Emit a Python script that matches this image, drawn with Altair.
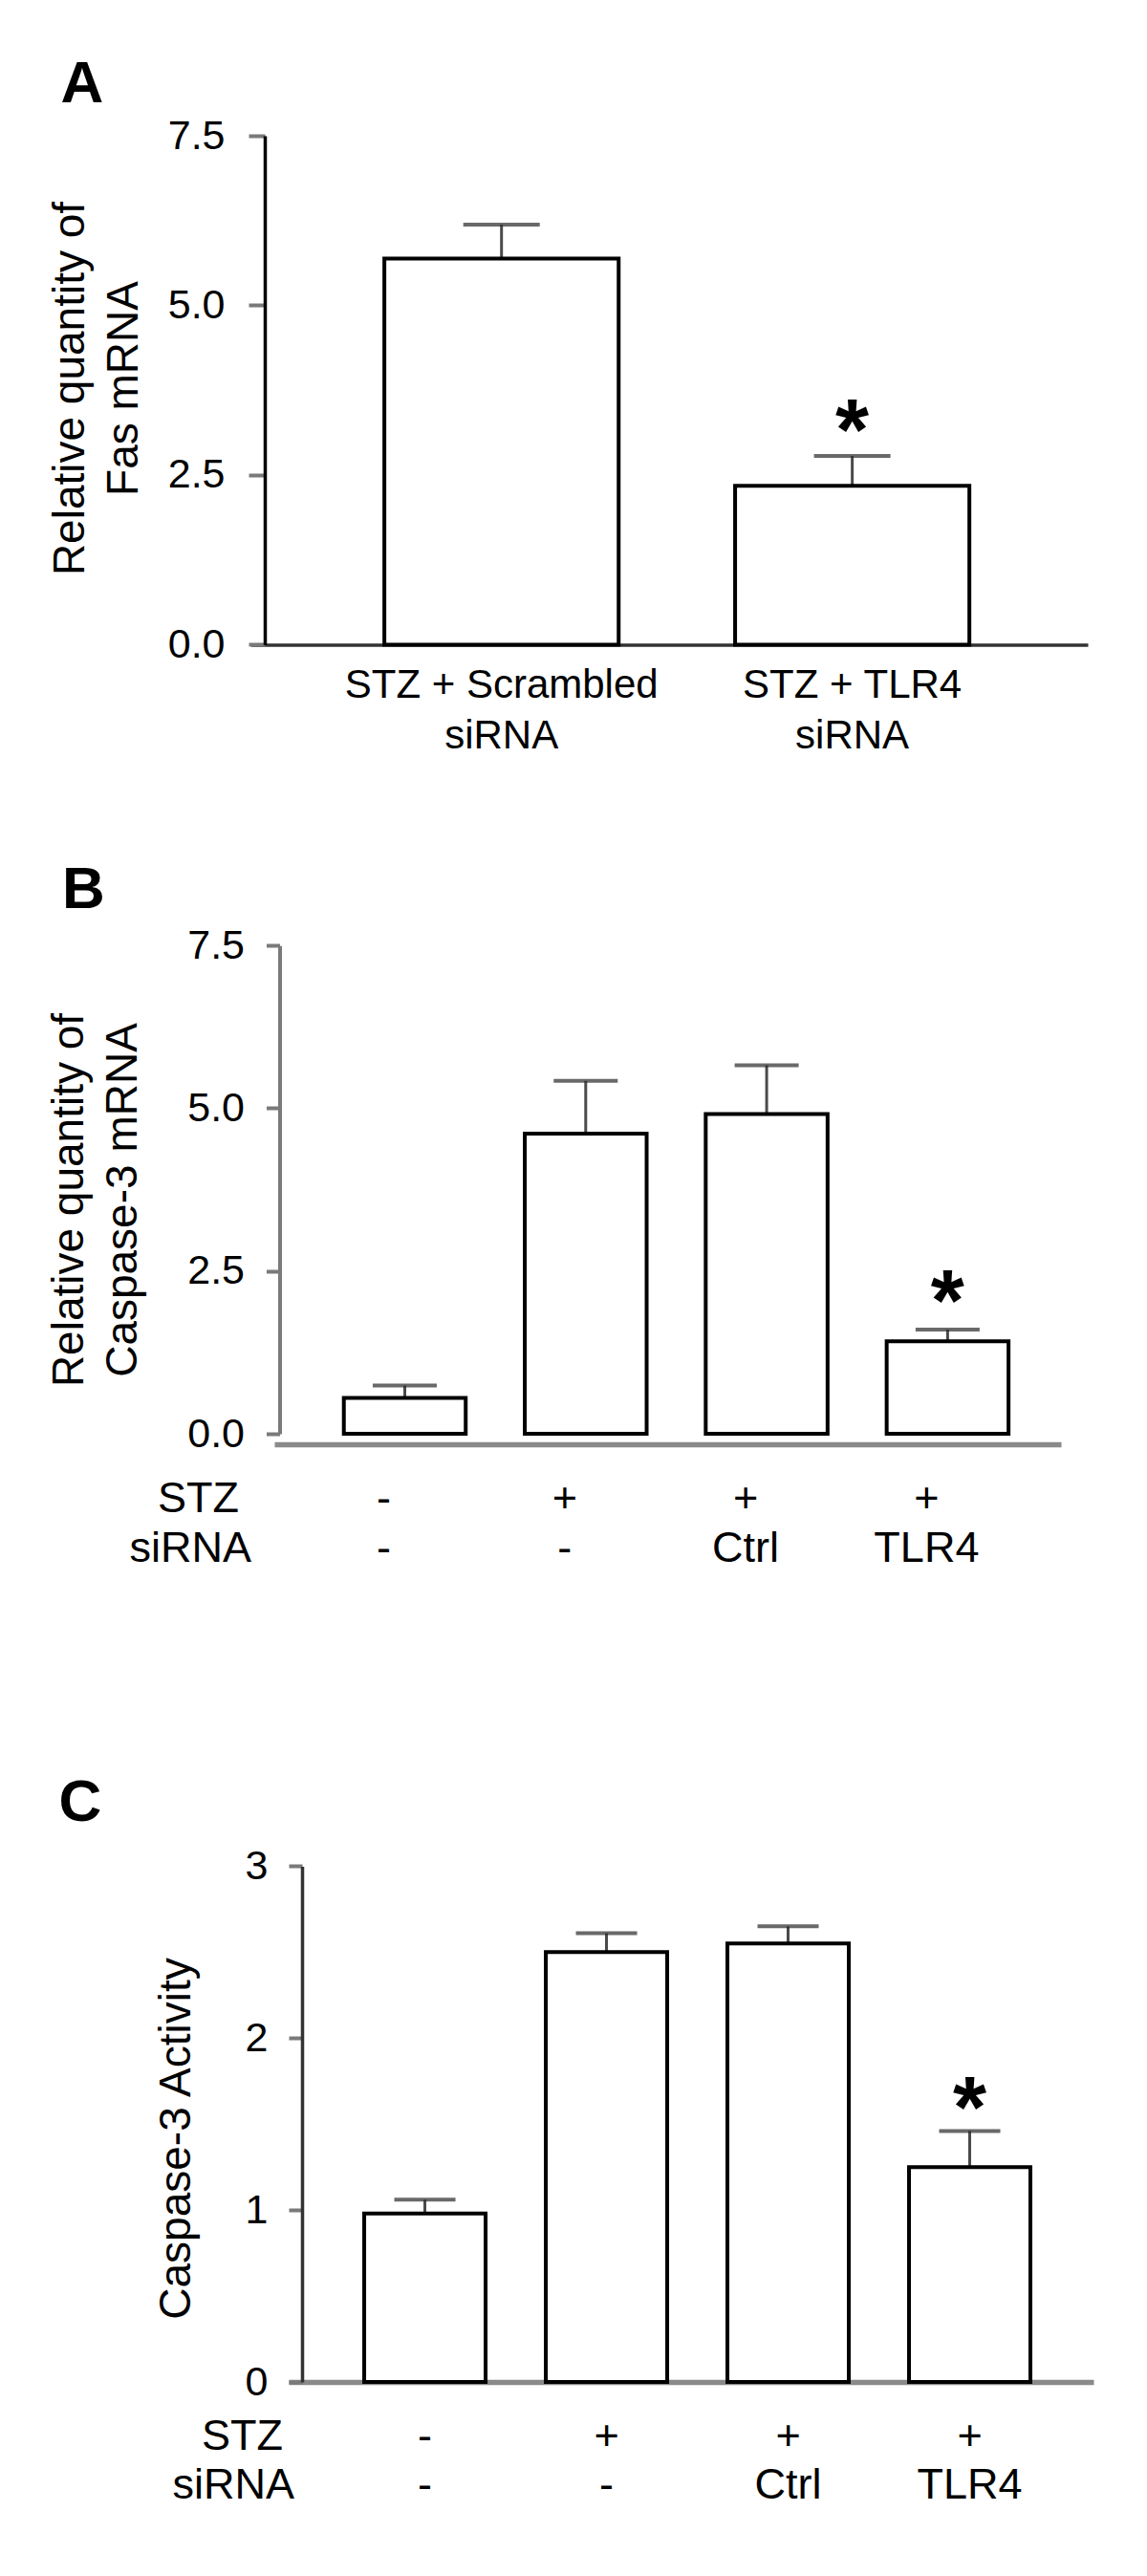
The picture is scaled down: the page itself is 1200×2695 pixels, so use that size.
import altair as alt
import pandas as pd

FONT = "Liberation Sans"

# ---------------- data ----------------
panel_letters = ["A", "B", "C"]

# Panel A: Fas mRNA
a_groups = ["STZ + Scrambled siRNA", "STZ + TLR4 siRNA"]
a_mean = [5.69, 2.34]
a_err = [0.50, 0.44]
a_sig = [False, True]

# Panels B and C: four groups
groups4 = ["Control", "STZ", "STZ + Ctrl siRNA", "STZ + TLR4 siRNA"]
stz_row = ["-", "+", "+", "+"]
sirna_row = ["-", "-", "Ctrl", "TLR4"]
sig4 = [False, False, False, True]

# Panel B: Caspase-3 mRNA
b_mean = [0.55, 4.61, 4.91, 1.42]
b_err = [0.19, 0.81, 0.75, 0.18]

# Panel C: Caspase-3 activity
c_mean = [0.98, 2.50, 2.55, 1.25]
c_err = [0.08, 0.11, 0.10, 0.21]

row_headers = ["STZ", "siRNA"]

TOTAL_H = 2484
W = 870


def build_panel(groups, mean, err, sig, letter, *, xr, pi, po, al, ydom, yr,
                yvalues, yfmt, ytitle, y_off, tick_size, label_pad, title_x,
                title_y, ycolor, ywidth, x_off, xcolor, xwidth, xlabels,
                letter_x, letter_y, ast_dy, cap_w, rows=None, row_dx=0,
                row_y=None, header_x=None):
    df = pd.DataFrame({"group": groups, "mean": mean, "err": err, "sig": sig})
    if rows is not None:
        df["stz"] = rows[0]
        df["sirna"] = rows[1]
    base = alt.Chart(df).transform_calculate(upper="datum.mean + datum.err")

    if xlabels:
        xaxis = alt.Axis(orient="bottom", offset=x_off, domainColor=xcolor,
                         domainWidth=xwidth, ticks=False, tickSize=0,
                         labelFontSize=42, labelColor="black", labelPadding=22,
                         labelLineHeight=53, labelAngle=0, labelFont=FONT,
                         labelLimit=1000, labelOverlap=False,
                         labelExpr="[replace(datum.label, ' siRNA', ''), 'siRNA']",
                         title=None, grid=False)
    else:
        xaxis = alt.Axis(orient="bottom", offset=x_off, domainColor=xcolor,
                         domainWidth=xwidth, ticks=False, labels=False,
                         title=None, grid=False)
    xscale = alt.Scale(domain=groups, range=xr, paddingInner=pi,
                       paddingOuter=po, align=al)
    x = alt.X("group:N", sort=groups, scale=xscale, axis=xaxis)

    yaxis = alt.Axis(orient="left", offset=y_off, values=yvalues, format=yfmt,
                     grid=False, domainColor=ycolor, domainWidth=ywidth,
                     tickColor="#7a7a7a", tickWidth=4, tickSize=tick_size,
                     labelFontSize=43, labelColor="black", labelFont=FONT,
                     labelPadding=label_pad, title=ytitle, titleFontSize=46,
                     titleFont=FONT, titleFontWeight="normal", titleColor="black",
                     titleX=title_x, titleY=title_y, titleAngle=270,
                     titleAlign="center", titleBaseline="middle",
                     titleLineHeight=56, titleLimit=2000)
    yscale = alt.Scale(domain=ydom, range=yr, nice=False, zero=True)

    stem = base.mark_rule(color="#4a4a4a", strokeWidth=3).encode(
        x=x, y=alt.Y("mean:Q", scale=yscale, axis=yaxis), y2="upper:Q")
    bars = base.mark_bar(fill="white", stroke="black", strokeWidth=4).encode(
        x=x, y=alt.Y("mean:Q", scale=yscale, axis=yaxis))
    cap = base.mark_tick(color="#2a2a2a", thickness=4, size=cap_w).encode(
        x=x, y=alt.Y("upper:Q", scale=yscale, axis=yaxis))
    star = base.transform_filter("datum.sig").mark_text(
        text="*", fontSize=90, fontWeight="bold", font=FONT, color="black",
        baseline="alphabetic", align="center", dy=ast_dy).encode(
        x=x, y=alt.Y("upper:Q", scale=yscale, axis=yaxis))
    let = alt.Chart(pd.DataFrame({"letter": [letter]})).mark_text(
        fontSize=62, fontWeight="bold", font=FONT, color="black",
        baseline="alphabetic", align="center").encode(
        text="letter:N", x=alt.value(letter_x), y=alt.value(letter_y))

    layers = [stem, bars, cap, star, let]
    if rows is not None:
        for col, yy, hx, hdr in zip(["stz", "sirna"], row_y, header_x, row_headers):
            layers.append(base.mark_text(fontSize=45, font=FONT, color="black",
                                         baseline="middle", align="center",
                                         dx=row_dx).encode(
                x=x, y=alt.value(yy), text=f"{col}:N"))
            layers.append(alt.Chart(pd.DataFrame({"h": [hdr]})).mark_text(
                fontSize=45, font=FONT, color="black", baseline="middle",
                align="right").encode(text="h:N", x=alt.value(hx),
                                      y=alt.value(yy)))
    return alt.layer(*layers)


pA = build_panel(
    a_groups, a_mean, a_err, a_sig, panel_letters[0],
    xr=[-14.5, 861], pi=0.332, po=0.359, al=0.53,
    ydom=[0, 7.5], yr=[666.4, 134], yvalues=[0, 2.5, 5, 7.5], yfmt=".1f",
    ytitle=["Relative quantity of", "Fas mRNA"], y_off=0, tick_size=17,
    label_pad=25, title_x=-204, title_y=398, ycolor="black", ywidth=3.5,
    x_off=666.4 - TOTAL_H, xcolor="#333333", xwidth=3.5, xlabels=True,
    letter_x=-191, letter_y=99, ast_dy=4, cap_w=80)

pB = build_panel(
    groups4, b_mean, b_err, sig4, panel_letters[1],
    xr=[10, 833], pi=0.3265, po=0.337, al=0.57,
    ydom=[0, 7.5], yr=[1492, 981.2], yvalues=[0, 2.5, 5, 7.5], yfmt=".1f",
    ytitle=["Relative quantity of", "Caspase-3 mRNA"], y_off=-15.5,
    tick_size=14, label_pad=23, title_x=-220, title_y=1247, ycolor="#7a7a7a",
    ywidth=4, x_off=1503 - TOTAL_H, xcolor="#8a8a8a", xwidth=5.5,
    xlabels=False, letter_x=-189.5, letter_y=942, ast_dy=1, cap_w=67,
    rows=(stz_row, sirna_row), row_dx=-22, row_y=[1560, 1612],
    header_x=[-27, -14])

pC = build_panel(
    groups4, c_mean, c_err, sig4, panel_letters[2],
    xr=[25, 867], pi=0.3316, po=0.3816, al=0.545,
    ydom=[0, 3], yr=[2484, 1944.4], yvalues=[0, 1, 2, 3], yfmt="d",
    ytitle="Caspase-3 Activity", y_off=-39, tick_size=14, label_pad=22,
    title_x=-132, title_y=2229, ycolor="#333333", ywidth=3.5, x_off=0,
    xcolor="#8a8a8a", xwidth=5.5, xlabels=False, letter_x=-193,
    letter_y=1897, ast_dy=7, cap_w=64,
    rows=(stz_row, sirna_row), row_dx=0, row_y=[2541, 2592],
    header_x=[19, 31])

chart = alt.layer(pA, pB, pC).resolve_scale(
    x="independent", y="independent").properties(
    width=W, height=TOTAL_H,
    autosize=alt.AutoSizeParams(type="none"),
    padding={"left": 269, "top": 0, "right": 20, "bottom": 195},
    background="white",
).configure(font=FONT).configure_view(stroke=None)

chart.save("out.html", embed_options={"renderer": "svg", "actions": False})
